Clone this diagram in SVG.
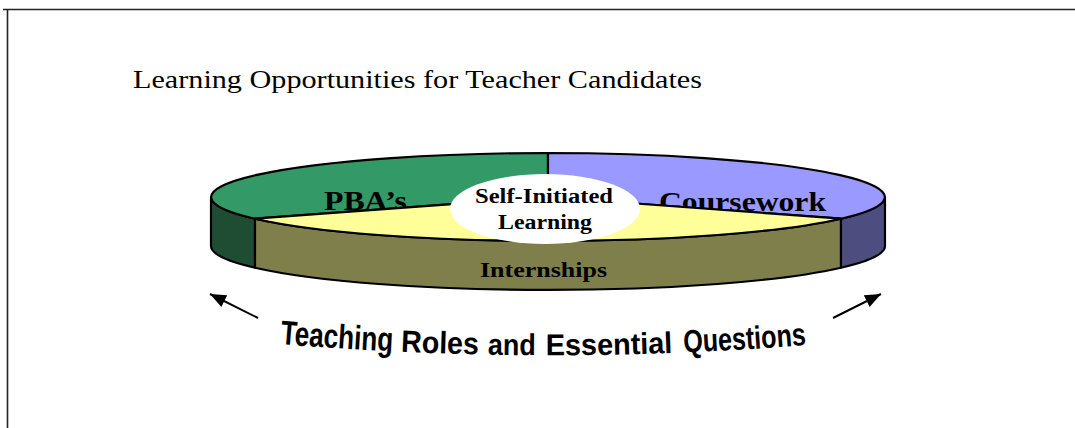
<svg xmlns="http://www.w3.org/2000/svg" width="1075" height="428" viewBox="0 0 1075 428">
<style>
.edge{stroke:#000;stroke-width:2.2;stroke-linejoin:round}
.lbl{font-family:"Liberation Serif","Times New Roman",serif;font-weight:bold;fill:#000;text-anchor:middle}
.title{font-family:"Liberation Serif","Times New Roman",serif;font-size:25px;fill:#000}
.wa{font-family:"Liberation Sans",Arial,sans-serif;font-weight:bold;fill:#000}
.arrow{stroke:#000;stroke-width:2;fill:none}
</style>
<defs>
<marker id="head" markerUnits="userSpaceOnUse" markerWidth="18" markerHeight="14" refX="16" refY="6.5" orient="auto">
<path d="M0,0 L16,6.5 L0,13 Z" fill="#000"/>
</marker>
<path id="arc" d="M 280 344 Q 545 366 806 345"/>
</defs>
<rect width="1075" height="428" fill="#fff"/>
<g id="frame" stroke="#222" stroke-width="1.6" fill="none">
<line x1="3" y1="9.5" x2="1075" y2="9.5"/>
<line x1="7.5" y1="9" x2="7.5" y2="428"/>
</g>
<text id="title" class="title" x="133" y="88" textLength="569" lengthAdjust="spacingAndGlyphs">Learning Opportunities for Teacher Candidates</text>
<g id="pie">
<g id="side-pba"><path class="edge" fill="#1E4D33" d="M211,197 L211,246 A337,44 0 0 0 255,267.7 L255,218.7 A337,44 0 0 1 211,197 Z"/></g>
<g id="side-internships"><path class="edge" fill="#7F7F4C" d="M255,218.7 L255,267.7 A337,44 0 0 0 841,267.7 L841,218.7 A337,44 0 0 1 255,218.7 Z"/></g>
<g id="side-coursework"><path class="edge" fill="#4D4D80" d="M841,218.7 L841,267.7 A337,44 0 0 0 885,246 L885,197 A337,44 0 0 1 841,218.7 Z"/></g>
<g id="pba"><path class="edge" fill="#339966" d="M548,197 L255,218.7 A337,44 0 0 1 548,153 Z"/>
<text class="lbl" x="365.5" y="210" font-size="28" textLength="83" lengthAdjust="spacingAndGlyphs">PBA’s</text></g>
<g id="coursework"><path class="edge" fill="#9999FF" d="M548,197 L548,153 A337,44 0 0 1 841,218.7 Z"/>
<text class="lbl" x="742.5" y="211" font-size="28" textLength="167" lengthAdjust="spacingAndGlyphs">Coursework</text></g>
<g id="internships-top"><path class="edge" fill="#FFFF99" d="M548,197 L841,218.7 A337,44 0 0 1 255,218.7 Z"/></g>
<g id="internships"><text class="lbl" x="543.5" y="277" font-size="22" textLength="127" lengthAdjust="spacingAndGlyphs">Internships</text></g>
<g id="self-initiated">
<ellipse cx="545" cy="209" rx="95" ry="35" fill="#fff"/>
<text class="lbl" x="544" y="203" font-size="20" textLength="138" lengthAdjust="spacingAndGlyphs">Self-Initiated</text>
<text class="lbl" x="545" y="229" font-size="20" textLength="94" lengthAdjust="spacingAndGlyphs">Learning</text>
</g>
</g>
<g id="connectors">
<line class="arrow" x1="258" y1="318" x2="210" y2="294" marker-end="url(#head)"/>
<line class="arrow" x1="833" y1="318" x2="881" y2="294" marker-end="url(#head)"/>
</g>
<g id="theme">
<text class="wa" font-size="34"><textPath href="#arc" startOffset="0" textLength="113" lengthAdjust="spacingAndGlyphs">Teaching</textPath></text>
<text class="wa" font-size="31"><textPath href="#arc" startOffset="121" textLength="78" lengthAdjust="spacingAndGlyphs">Roles</textPath></text>
<text class="wa" font-size="30"><textPath href="#arc" startOffset="208" textLength="48" lengthAdjust="spacingAndGlyphs">and</textPath></text>
<text class="wa" font-size="30"><textPath href="#arc" startOffset="266" textLength="127" lengthAdjust="spacingAndGlyphs">Essential</textPath></text>
<text class="wa" font-size="32"><textPath href="#arc" startOffset="404" textLength="123" lengthAdjust="spacingAndGlyphs">Questions</textPath></text>
</g>
</svg>
